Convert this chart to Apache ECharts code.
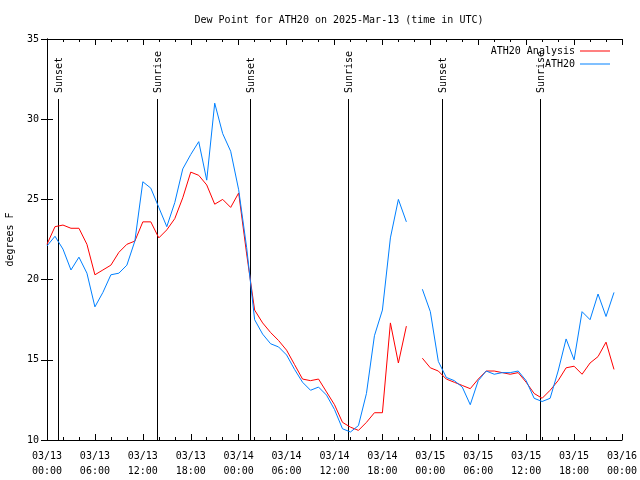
<!DOCTYPE html>
<html><head><meta charset="utf-8">
<script src="https://cdn.jsdelivr.net/npm/echarts@6/dist/echarts.min.js"></script>
<style>html,body{margin:0;padding:0;background:#fff}#c{width:640px;height:480px}</style>
</head><body><div id="c"></div>
<script>
// hours since 2025-03-13 00:00 UTC
const hours = [0,1,2,3,4,5,6,7,8,9,10,11,12,13,14,15,16,17,18,19,20,21,22,23,
  24,25,26,27,28,29,30,31,32,33,34,35,36,37,38,39,40,41,42,43,44,45,46,47,
  48,49,50,51,52,53,54,55,56,57,58,59,60,61,62,63,64,65,66,67,68,69,70,71];
const analysisValues = [22.2,23.3,23.4,23.2,23.2,22.2,20.3,20.6,20.9,21.7,22.2,22.4,
  23.6,23.6,22.6,23.1,23.8,25.1,26.7,26.5,25.9,24.7,25.0,24.5,
  25.4,21.6,18.1,17.3,16.7,16.2,15.6,14.7,13.8,13.7,13.8,13.0,
  12.2,11.1,10.8,10.6,11.1,11.7,11.7,17.3,14.8,17.1,null,15.1,
  14.5,14.3,13.8,13.6,13.4,13.2,13.8,14.3,14.3,14.2,14.1,14.2,
  13.6,12.9,12.6,13.1,13.7,14.5,14.6,14.1,14.8,15.2,16.1,14.4];
const obsValues = [22.1,22.7,21.9,20.6,21.4,20.4,18.3,19.2,20.3,20.4,20.9,22.4,
  26.1,25.7,24.5,23.3,24.8,26.9,27.8,28.6,26.2,31.0,29.1,28.0,
  25.6,22.0,17.5,16.6,16.0,15.8,15.3,14.4,13.6,13.1,13.3,12.8,
  11.9,10.7,10.5,10.9,12.9,16.5,18.1,22.6,25.0,23.6,null,19.4,
  18.0,14.9,13.9,13.7,13.3,12.2,13.7,14.3,14.1,14.2,14.2,14.3,
  13.7,12.6,12.4,12.6,14.3,16.3,15.0,18.0,17.5,19.1,17.7,19.2];
const eventTimes = [1.33, 13.72, 25.38, 37.70, 49.45, 61.75];
const eventLabels = ['Sunset','Sunrise','Sunset','Sunrise','Sunset','Sunrise'];
const dayLabels = ['03/13','03/14','03/15','03/16'];

const FONT = '"DejaVu Sans Mono", monospace';
const pairs = vals => hours.map((h,i) => [h, vals[i] == null ? '-' : vals[i]]);

const chart = echarts.init(document.getElementById('c'), null, {renderer:'canvas'});
const axisCommon = {
  axisLine:{show:true, lineStyle:{color:'#000', width:1}},
  splitLine:{show:false}
};
const legendCommon = {orient:'vertical', align:'right', icon:'rect', itemWidth:30, itemHeight:1,
  textStyle:{fontFamily:FONT, fontSize:10, color:'#000'}};
chart.setOption({
  animation:false,
  backgroundColor:'#fff',
  title:{text:'Dew Point for ATH20 on 2025-Mar-13 (time in UTC)', left:334, top:10, textAlign:'center',
    textStyle:{fontFamily:FONT, fontSize:10, fontWeight:'normal', color:'#000'}},
  legend:[
    Object.assign({data:['ATH20 Analysis'], right:25, top:41}, legendCommon),
    Object.assign({data:['ATH20'], right:25, top:54}, legendCommon)
  ],
  grid:{left:47, right:18, top:39, bottom:40, show:false, containLabel:false, outerBoundsMode:'none'},
  xAxis:[
    Object.assign({type:'value', min:0, max:72, interval:6, position:'bottom',
      axisTick:{show:true, inside:true, length:6, lineStyle:{color:'#000'}},
      minorTick:{show:true, splitNumber:3, length:3, lineStyle:{color:'#000'}},
      axisLabel:{interval:0, margin:9, fontFamily:FONT, fontSize:10, color:'#000', lineHeight:15,
        showMinLabel:true, showMaxLabel:true, hideOverlap:false,
        formatter:v => { const d = Math.floor(v/24); const h = v%24; return dayLabels[d] + '\n' + (h<10?'0':'') + h + ':00'; }}
    }, axisCommon),
    Object.assign({type:'value', min:0, max:72, interval:6, position:'top',
      axisTick:{show:true, inside:true, length:6, lineStyle:{color:'#000'}},
      minorTick:{show:true, splitNumber:3, length:3, lineStyle:{color:'#000'}},
      axisLabel:{show:false}
    }, axisCommon)
  ],
  yAxis:[
    Object.assign({type:'value', min:10, max:35, interval:5, position:'left',
      name:'degrees F', nameLocation:'middle', nameGap:32, nameRotate:90,
      nameTextStyle:{fontFamily:FONT, fontSize:10, color:'#000'},
      axisTick:{show:true, inside:true, length:6, lineStyle:{color:'#000'}},
      axisLabel:{margin:8, fontFamily:FONT, fontSize:10, color:'#000'}
    }, axisCommon),
    Object.assign({type:'value', min:10, max:35, interval:5, position:'right',
      axisTick:{show:true, inside:true, length:6, lineStyle:{color:'#000'}},
      axisLabel:{show:false}
    }, axisCommon)
  ],
  series:[
    {name:'ATH20 Analysis', type:'line', xAxisIndex:0, yAxisIndex:0, data:pairs(analysisValues),
      symbol:'none', connectNulls:false, color:'#ff0000', lineStyle:{width:1, color:'#ff0000'}},
    {name:'ATH20', type:'line', xAxisIndex:0, yAxisIndex:0, data:pairs(obsValues),
      symbol:'none', connectNulls:false, color:'#0080ff', lineStyle:{width:1, color:'#0080ff'}},
    {name:'events', type:'custom', xAxisIndex:0, yAxisIndex:0, silent:true,
      data:eventTimes.map(t => [t, 10]),
      renderItem:(params, api) => {
        const p = api.coord([api.value(0), api.value(1)]);
        const x = Math.round(p[0]) + 0.5;
        const top = params.coordSys.y + 60;
        return {type:'group', children:[
          {type:'line', shape:{x1:x, y1:p[1], x2:x, y2:top}, style:{stroke:'#000', lineWidth:1}},
          {type:'text', x:x+1, y:top-6, rotation:Math.PI/2,
            style:{text:eventLabels[params.dataIndex], textAlign:'left', textVerticalAlign:'middle',
              font:'10px ' + FONT, fill:'#000'}}
        ]};
      }}
  ]
});
</script></body></html>
